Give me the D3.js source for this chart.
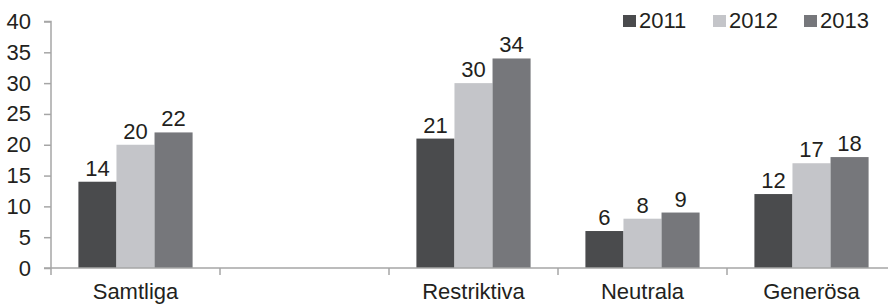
<!DOCTYPE html>
<html>
<head>
<meta charset="utf-8">
<script src="https://cdn.jsdelivr.net/npm/d3@7"></script>
<style>
  body { margin: 0; background: #fff; }
  text { font-family: "Liberation Sans", Arial, sans-serif; fill: #231f20; }
</style>
</head>
<body>
<script>
const W = 888, H = 304
const margin = {top: 21.5, left: 51, bottom: 36, right: 0}

const categories = ['Samtliga', '', 'Restriktiva', 'Neutrala', 'Generösa']
const years = ['2011', '2012', '2013']
const v2011 = [14, null, 21, 6, 12]
const v2012 = [20, null, 30, 8, 17]
const v2013 = [22, null, 34, 9, 18]
const yTicks = [0, 5, 10, 15, 20, 25, 30, 35, 40]
const colors = ['#4a4b4d', '#c4c5c9', '#76777b']

const series = [v2011, v2012, v2013]

const zeroY = H - margin.bottom

let x = d3.scaleBand().domain(d3.range(categories.length)).range([margin.left, 896]).paddingInner(0).paddingOuter(0)
let xSub = d3.scaleBand().domain(d3.range(years.length)).range([0, x.bandwidth()]).paddingInner(0).paddingOuter(0.72)
let y = d3.scaleLinear().domain([0, 40]).range([zeroY, margin.top])

let svg = d3.select('body').append('svg')
            .attr('width', W)
            .attr('height', H)

// bars
series.forEach((vals, s) => {
  svg.append('g').selectAll('rect')
     .data(vals.map((v, i) => ({v, i})).filter(d => d.v != null))
     .enter()
     .append('rect')
     .attr('x', d => x(d.i) + xSub(s))
     .attr('y', d => y(d.v))
     .attr('width', xSub.bandwidth())
     .attr('height', d => zeroY - y(d.v))
     .attr('fill', colors[s])

  svg.append('g').selectAll('text')
     .data(vals.map((v, i) => ({v, i})).filter(d => d.v != null))
     .enter()
     .append('text')
     .attr('x', d => x(d.i) + xSub(s) + xSub.bandwidth() / 2)
     .attr('y', d => y(d.v) - 6)
     .attr('text-anchor', 'middle')
     .style('font-size', '22px')
     .text(d => d.v)
})

// y axis
let yAxis = d3.axisLeft(y).tickValues(yTicks).tickSize(7).tickPadding(13)
let gy = svg.append('g')
            .attr('transform', `translate(${margin.left}, 0)`)
            .call(yAxis)
gy.select('.domain').attr('stroke', '#a6a6a6').attr('stroke-width', 1.5).attr('d', `M-7,${y(40)}H0V${zeroY}`)
gy.selectAll('.tick line').attr('stroke', '#a6a6a6').attr('stroke-width', 1.5)
gy.selectAll('.tick text').style('font-size', '22px').attr('fill', '#231f20')

// x axis
let gx = svg.append('g').attr('transform', `translate(0, ${zeroY})`)
gx.append('line').attr('x1', margin.left - 7).attr('x2', W).attr('y1', 0).attr('y2', 0)
  .attr('stroke', '#a6a6a6').attr('stroke-width', 1.5)
gx.selectAll('.xt')
  .data(d3.range(categories.length))
  .enter()
  .append('line')
  .attr('x1', d => x(d)).attr('x2', d => x(d))
  .attr('y1', 0).attr('y2', 7)
  .attr('stroke', '#a6a6a6').attr('stroke-width', 1.5)
gx.selectAll('.xl')
  .data(categories)
  .enter()
  .append('text')
  .attr('x', (d, i) => x(i) + x.bandwidth() / 2)
  .attr('y', 31)
  .attr('text-anchor', 'middle')
  .style('font-size', '22px')
  .text(d => d)

// legend
const legendX = [623, 713, 804]
let lg = svg.append('g')
years.forEach((yr, i) => {
  lg.append('rect')
    .attr('x', legendX[i]).attr('y', 15)
    .attr('width', 13).attr('height', 12)
    .attr('fill', colors[i])
  lg.append('text')
    .attr('x', legendX[i] + 16).attr('y', 28)
    .style('font-size', '22px')
    .text(yr)
})
</script>
</body>
</html>
